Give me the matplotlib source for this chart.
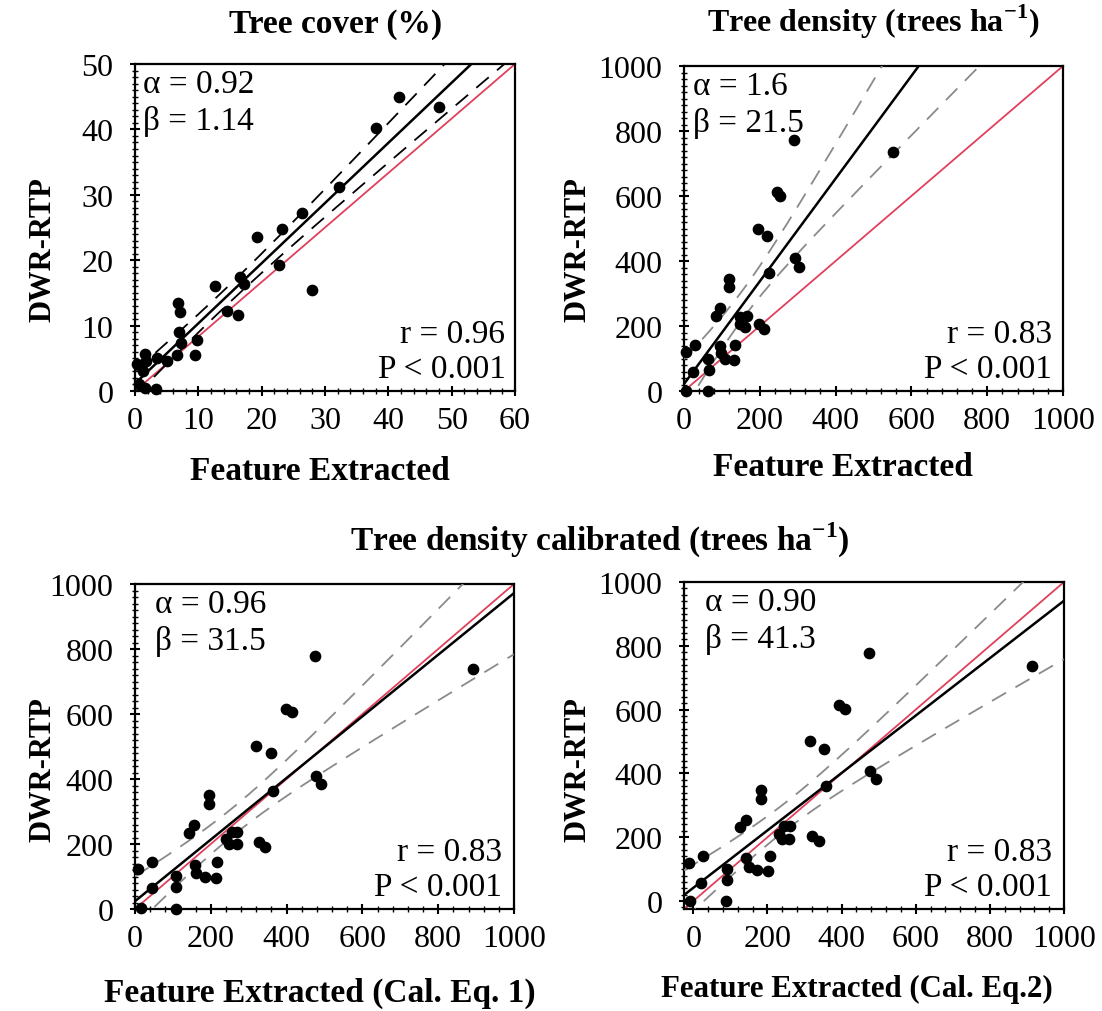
import numpy as np
import matplotlib
matplotlib.use("Agg")
import matplotlib.pyplot as plt
from matplotlib.ticker import MultipleLocator, AutoMinorLocator

plt.rcParams['font.family'] = ['Liberation Serif', 'DejaVu Serif']
plt.rcParams['mathtext.fontset'] = 'custom'
plt.rcParams['mathtext.rm'] = 'Liberation Serif'
plt.rcParams['mathtext.bf'] = 'Liberation Serif:bold'

# ---------------- data ----------------
cover_fe = [41.7, 48.0, 38.1, 32.2, 26.4, 23.2, 19.3, 22.7, 27.9, 16.5, 17.2, 12.6, 14.6, 16.3,
            6.8, 7.1, 7.0, 7.3, 9.8, 9.5, 6.7, 5.1, 3.5, 1.6, 1.8, 1.0, 0.3, 1.3, 0.7, 1.6, 3.3]
cover_dwr = [44.9, 43.5, 40.2, 31.2, 27.2, 24.7, 23.5, 19.2, 15.4, 17.4, 16.3, 16.0, 12.3, 11.6,
             13.4, 12.1, 9.0, 7.4, 7.8, 5.5, 5.5, 4.6, 5.1, 5.6, 4.6, 3.8, 4.1, 3.1, 1.0, 0.4, 0.3]

dens_fe = [291, 551, 245, 254, 195, 220, 294, 303, 223, 119, 119, 94, 85, 147, 167, 147, 162,
           198, 212, 29, 6, 134, 94, 98, 109, 131, 64, 24, 66, 6, 64]
dens_dwr = [773, 735, 612, 601, 500, 476, 409, 383, 362, 346, 321, 254, 231, 229, 231, 206, 197,
            206, 190, 142, 120, 142, 137, 118, 100, 95, 100, 60, 65, 0, 0]

cal1_fe = [476, 893, 399, 414, 319, 358, 477, 491, 363, 195, 195, 155, 142, 241, 257, 270, 248,
           268, 326, 343, 46, 9, 157, 161, 186, 213, 217, 108, 44, 108, 15, 108]
cal1_dwr = [777, 738, 615, 605, 502, 480, 409, 384, 363, 350, 322, 257, 235, 214, 237, 237, 199,
            199, 206, 192, 144, 123, 136, 110, 100, 96, 144, 103, 64, 67, 3, 0]

cal2_fe = [474, 915, 393, 408, 314, 353, 478, 493, 357, 183, 183, 141, 125, 230, 245, 261, 239,
           259, 319, 338, 26, -12, 141, 150, 171, 201, 207, 91, 22, 91, -8, 87]
cal2_dwr = [777, 737, 613, 602, 502, 477, 408, 382, 360, 347, 321, 255, 232, 211, 234, 234, 195,
            195, 203, 187, 140, 119, 135, 108, 97, 95, 142, 100, 58, 65, 0, 0]

alpha_txt = ["0.92", "1.6", "0.96", "0.90"]
beta_txt = ["1.14", "21.5", "31.5", "41.3"]
r_txt = ["0.96", "0.83", "0.83", "0.83"]
fit_slope = [0.92, 1.58, 0.948, 0.90]
fit_intercept = [1.14, 21.5, 24.0, 41.3]

xlabels = ["Feature Extracted", "Feature Extracted",
           "Feature Extracted (Cal. Eq. 1)", "Feature Extracted (Cal. Eq.2)"]
xlims = [(0, 60), (0, 1000), (0, 1000), (-25, 1000)]
ylims = [(0, 50), (0, 1000), (0, 1000), (-25, 1000)]
xmajor = [10, 200, 200, 200]
ymajor = [10, 200, 200, 200]

# ---------------- figure ----------------
W, H = 1102, 1012
fig = plt.figure(figsize=(W / 100, H / 100), dpi=100)

boxes = [(135, 65, 515, 392), (684, 67, 1063, 392), (135, 585, 514, 910), (684, 583, 1064, 910)]
ylab_pos = [(43, 250), (578, 250), (43, 770), (578, 770)]
xlab_pos = [(320, 472), (843, 468), (320, 993), (857, 989)]
xlab_size = [24, 24, 24, 22.2]
txt_x = [0.021, 0.024, 0.053, 0.055]
rtxt_x = [0.975, 0.971, 0.968, 0.968]

datasets = [(cover_fe, cover_dwr), (dens_fe, dens_dwr), (cal1_fe, cal1_dwr), (cal2_fe, cal2_dwr)]
dash_col = ['black', '#8a8a8a', '#8a8a8a', '#8a8a8a']

for i, (xd, yd) in enumerate(datasets):
    l, t, r, b = boxes[i]
    ax = fig.add_axes([l / W, 1 - b / H, (r - l) / W, (b - t) / H])
    x = np.asarray(xd, float)
    y = np.asarray(yd, float)
    ax.set_xlim(*xlims[i])
    ax.set_ylim(*ylims[i])

    # 1:1 reference line (corner to corner)
    ax.plot([0, 1], [0, 1], transform=ax.transAxes, color='#e0405a', lw=1.3, zorder=2)

    # fitted line and 95% confidence band of the fit
    a, c = fit_slope[i], fit_intercept[i]
    xs = np.linspace(xlims[i][0], xlims[i][1], 300)
    yfit = a * xs + c
    n = len(x)
    res = y - (a * x + c)
    s = np.sqrt(np.sum(res ** 2) / (n - 2))
    xm = x.mean()
    sxx = np.sum((x - xm) ** 2)
    hw = 2.04 * s * np.sqrt(1 / n + (xs - xm) ** 2 / sxx)
    ax.plot(xs, yfit, color='black', lw=1.8, zorder=3)
    ax.plot(xs, yfit + hw, color=dash_col[i], lw=1.3, dashes=(9, 6), zorder=3)
    ax.plot(xs, yfit - hw, color=dash_col[i], lw=1.3, dashes=(9, 6), zorder=3)

    ax.scatter(x, y, s=55, color='black', zorder=4, clip_on=False)

    ax.xaxis.set_major_locator(MultipleLocator(xmajor[i]))
    ax.yaxis.set_major_locator(MultipleLocator(ymajor[i]))
    ax.xaxis.set_minor_locator(AutoMinorLocator(5))
    ax.yaxis.set_minor_locator(AutoMinorLocator(10))
    ax.tick_params(which='major', direction='inout', length=7, width=1.5, labelsize=23)
    ax.tick_params(which='minor', direction='inout', length=4, width=1.0)
    ax.tick_params(axis='y', which='major', pad=12)
    ax.tick_params(axis='x', which='major', pad=7)
    for sp in ax.spines.values():
        sp.set_linewidth(1.6)

    ax.text(txt_x[i], 0.985, "α = " + alpha_txt[i] + "\nβ = " + beta_txt[i],
            transform=ax.transAxes, ha='left', va='top', fontsize=24, linespacing=1.25)
    ax.text(rtxt_x[i], 0.02, "r = " + r_txt[i] + "\nP < 0.001",
            transform=ax.transAxes, ha='right', va='bottom', fontsize=24, linespacing=1.22,
            multialignment='right')

    fig.text(ylab_pos[i][0] / W, 1 - ylab_pos[i][1] / H, "DWR-RTP", rotation=90,
             ha='center', va='center', fontsize=22, fontweight='bold')
    fig.text(xlab_pos[i][0] / W, 1 - xlab_pos[i][1] / H, xlabels[i],
             ha='center', va='center', fontsize=xlab_size[i], fontweight='bold')

fig.text(336 / W, 1 - 25 / H, "Tree cover (%)", ha='center', va='center',
         fontsize=24, fontweight='bold')
fig.text(873 / W, 1 - 22 / H, r"Tree density (trees ha$^{\mathbf{-1}}$)", ha='center', va='center',
         fontsize=23, fontweight='bold')
fig.text(600 / W, 1 - 540 / H, r"Tree density calibrated (trees ha$^{\mathbf{-1}}$)",
         ha='center', va='center', fontsize=24, fontweight='bold')

fig.savefig("out.png", dpi=100)
